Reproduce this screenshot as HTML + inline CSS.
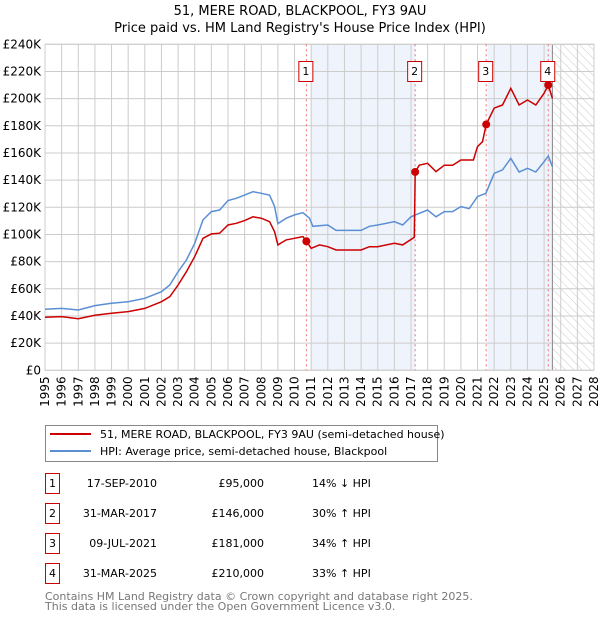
<!DOCTYPE html>
<html><head><meta charset="utf-8"><style>
body{margin:0;background:#fff;font-family:"DejaVu Sans","Liberation Sans",sans-serif}
svg text{font-family:"DejaVu Sans","Liberation Sans",sans-serif}
</style></head><body>
<svg id="c" width="600" height="620" xmlns="http://www.w3.org/2000/svg">
<defs><pattern id="hatch" width="6" height="6" patternUnits="userSpaceOnUse" patternTransform="rotate(-45)"><line x1="0" y1="0" x2="0" y2="6" stroke="#ccc" stroke-width="1"/></pattern></defs>
<text x="300" y="15" text-anchor="middle" font-size="13">51, MERE ROAD, BLACKPOOL, FY3 9AU</text>
<text x="300" y="32" text-anchor="middle" font-size="13">Price paid vs. HM Land Registry's House Price Index (HPI)</text>
<g id="plot"></g>
<g>
<rect x="45.5" y="425.5" width="392" height="36" fill="#fff" stroke="#888"/>
<line x1="50" y1="434" x2="91" y2="434" stroke="#cc0000" stroke-width="2"/>
<text x="100" y="438" font-size="11">51, MERE ROAD, BLACKPOOL, FY3 9AU (semi-detached house)</text>
<line x1="50" y1="451" x2="91" y2="451" stroke="#5b8fd4" stroke-width="2"/>
<text x="100" y="455" font-size="11">HPI: Average price, semi-detached house, Blackpool</text>
</g>
<g id="table" font-size="11"></g>
<text x="45" y="600" font-size="11" fill="#777">Contains HM Land Registry data © Crown copyright and database right 2025.</text>
<text x="45" y="610" font-size="11" fill="#777">This data is licensed under the Open Government Licence v3.0.</text>
</svg>
<script>
const hpiYears=[1995,1996,1997,1998,1999,2000,2001,2002,2002.5,2003,2003.5,2004,2004.5,2005,2005.5,2006,2006.5,2007,2007.5,2008,2008.5,2008.8,2009,2009.5,2010,2010.5,2010.9,2011.1,2012,2012.5,2013,2014,2014.5,2015,2016,2016.5,2017,2017.5,2018,2018.5,2019,2019.5,2020,2020.5,2021,2021.5,2022,2022.5,2023,2023.5,2024,2024.5,2025,2025.25,2025.5];
const hpiValues=[44.9,45.6,44.4,47.6,49.3,50.5,53,57.9,62.8,72.6,81.2,93.5,110.7,116.8,118,125,126.6,129,131.5,130.3,129,120.5,108,112,114.4,116,112,106,107,103,103,103,106,107,109.4,107,113,115.6,118,113,116.8,116.8,120.5,119,127.9,130.3,145,147.5,156,146,148.7,146,153.6,157.8,150];
const priceYears=[1995,1996,1997,1998,1999,2000,2001,2002,2002.5,2003,2003.5,2004,2004.5,2005,2005.5,2006,2006.5,2007,2007.5,2008,2008.5,2008.8,2009,2009.5,2010,2010.5,2010.71,2011,2011.5,2012,2012.5,2013,2014,2014.5,2015,2016,2016.5,2017.2,2017.25,2017.5,2018,2018.5,2019,2019.5,2020,2020.75,2021,2021.3,2021.52,2022,2022.5,2023,2023.5,2024,2024.5,2025,2025.25,2025.5];
const priceValues=[39,39.5,38,40.5,42,43.2,45.6,50.5,54.2,62.8,72.6,83.7,97.2,100.4,100.9,107,108.2,110.2,113,112,109.4,102,92.3,96,97.2,98.4,95,89.8,92.3,91,88.6,88.6,88.6,91,91,93.5,92.3,97.9,146,151,152.4,146.3,151,151,154.8,154.8,164.7,168.3,181,193,195.3,207.6,195.3,199,195.3,204,210,200.2];
const saleLabels=["1","2","3","4"];
const saleYears=[2010.71,2017.25,2021.52,2025.25];
const salePrices=[95,146,181,210];
const saleDates=["17-SEP-2010","31-MAR-2017","09-JUL-2021","31-MAR-2025"];
const salePriceText=["£95,000","£146,000","£181,000","£210,000"];
const saleHpiText=["14% ↓ HPI","30% ↑ HPI","34% ↑ HPI","33% ↑ HPI"];
const yTicks=[0,20,40,60,80,100,120,140,160,180,200,220,240];
const xTicks=[1995,1996,1997,1998,1999,2000,2001,2002,2003,2004,2005,2006,2007,2008,2009,2010,2011,2012,2013,2014,2015,2016,2017,2018,2019,2020,2021,2022,2023,2024,2025,2026,2027,2028];

const L=45,R=594,T=44.3,B=370.3,NS="http://www.w3.org/2000/svg";
const xs=y=>L+(y-1995)/(2028-1995)*(R-L);
const ys=v=>B-v/240*(B-T);
const plot=document.getElementById('plot');
function mk(tag,attrs,parent){const e=document.createElementNS(NS,tag);for(const k in attrs)e.setAttribute(k,attrs[k]);(parent||plot).appendChild(e);return e;}

// shaded ranges between sales
let s=mk('rect',{x:xs(2011.0),y:T,width:xs(saleYears[1])-xs(2011.0),height:B-T,fill:'#eef3fc'});


s=mk('rect',{x:xs(saleYears[2]+0.1),y:T,width:xs(2025.5)-xs(saleYears[2]+0.1),height:B-T,fill:'#eef3fc'});


s=mk('rect',{x:xs(2025.5),y:T,width:R-xs(2025.5),height:B-T,fill:'url(#hatch)'});



yTicks.forEach(v=>{
  const g=mk('line',{x1:L,x2:R,y1:ys(v),y2:ys(v),stroke:'#ccc','stroke-width':1});
  
  
  const t=mk('text',{x:L-4,y:ys(v)+4,'text-anchor':'end','font-size':12});
  t.textContent=v===0?'£0':'£'+v+'K';
  
  
});
xTicks.forEach(y=>{
  const g=mk('line',{x1:xs(y),x2:xs(y),y1:T,y2:B,stroke:'#ccc','stroke-width':1});
  
  
  const t=mk('text',{x:0,y:0,'font-size':12,'text-anchor':'end',transform:`translate(${xs(y)+4},${B+6}) rotate(-90)`});
  t.textContent=y;
  
  
});
let ln=mk('line',{x1:xs(2025.5),x2:xs(2025.5),y1:T,y2:B,stroke:'#888','stroke-width':1});


let bx=mk('rect',{x:L,y:T,width:R-L,height:B-T,fill:'none',stroke:'#ccc'});



saleYears.forEach((y,i)=>{
  const d=mk('line',{x1:xs(y),x2:xs(y),y1:T,y2:B,stroke:'#f07070','stroke-width':1,'stroke-dasharray':'2,3'});
  
  
});

const path=(xa,va)=>xa.map((y,i)=>(i?'L':'M')+xs(y).toFixed(1)+','+ys(va[i]).toFixed(1)).join('');
let p=mk('path',{d:path(hpiYears,hpiValues),fill:'none',stroke:'#5b8fd4','stroke-width':1.5});


p=mk('path',{d:path(priceYears,priceValues),fill:'none',stroke:'#cc0000','stroke-width':1.5});



saleYears.forEach((y,i)=>{
  const c=mk('circle',{cx:xs(y),cy:ys(salePrices[i]),r:4,fill:'#cc0000'});
  
  
  const bx=xs(y)-7;
  const r=mk('rect',{x:bx-0.5,y:61.5,width:14,height:20,fill:'#fff',stroke:'#cc0000'});
  
  
  const t=mk('text',{x:xs(y)-0.5,y:75,'text-anchor':'middle','font-size':11});
  t.textContent=saleLabels[i];
  
  
});

const tbl=document.getElementById('table');
saleLabels.forEach((lab,i)=>{
  const cy=483+i*30;
  const r=mk('rect',{x:45.5,y:cy-9.5,width:14,height:20,fill:'#fff',stroke:'#cc0000'},tbl);
  
  
  const a=mk('text',{x:52.5,y:cy+4,'text-anchor':'middle'},tbl);a.textContent=lab;
  
  
  const b=mk('text',{x:157,y:cy+4,'text-anchor':'end'},tbl);b.textContent=saleDates[i];
  
  
  const c=mk('text',{x:264,y:cy+4,'text-anchor':'end'},tbl);c.textContent=salePriceText[i];
  
  
  const d=mk('text',{x:312,y:cy+4},tbl);d.textContent=saleHpiText[i];
  
  
});
</script>
</body></html>
